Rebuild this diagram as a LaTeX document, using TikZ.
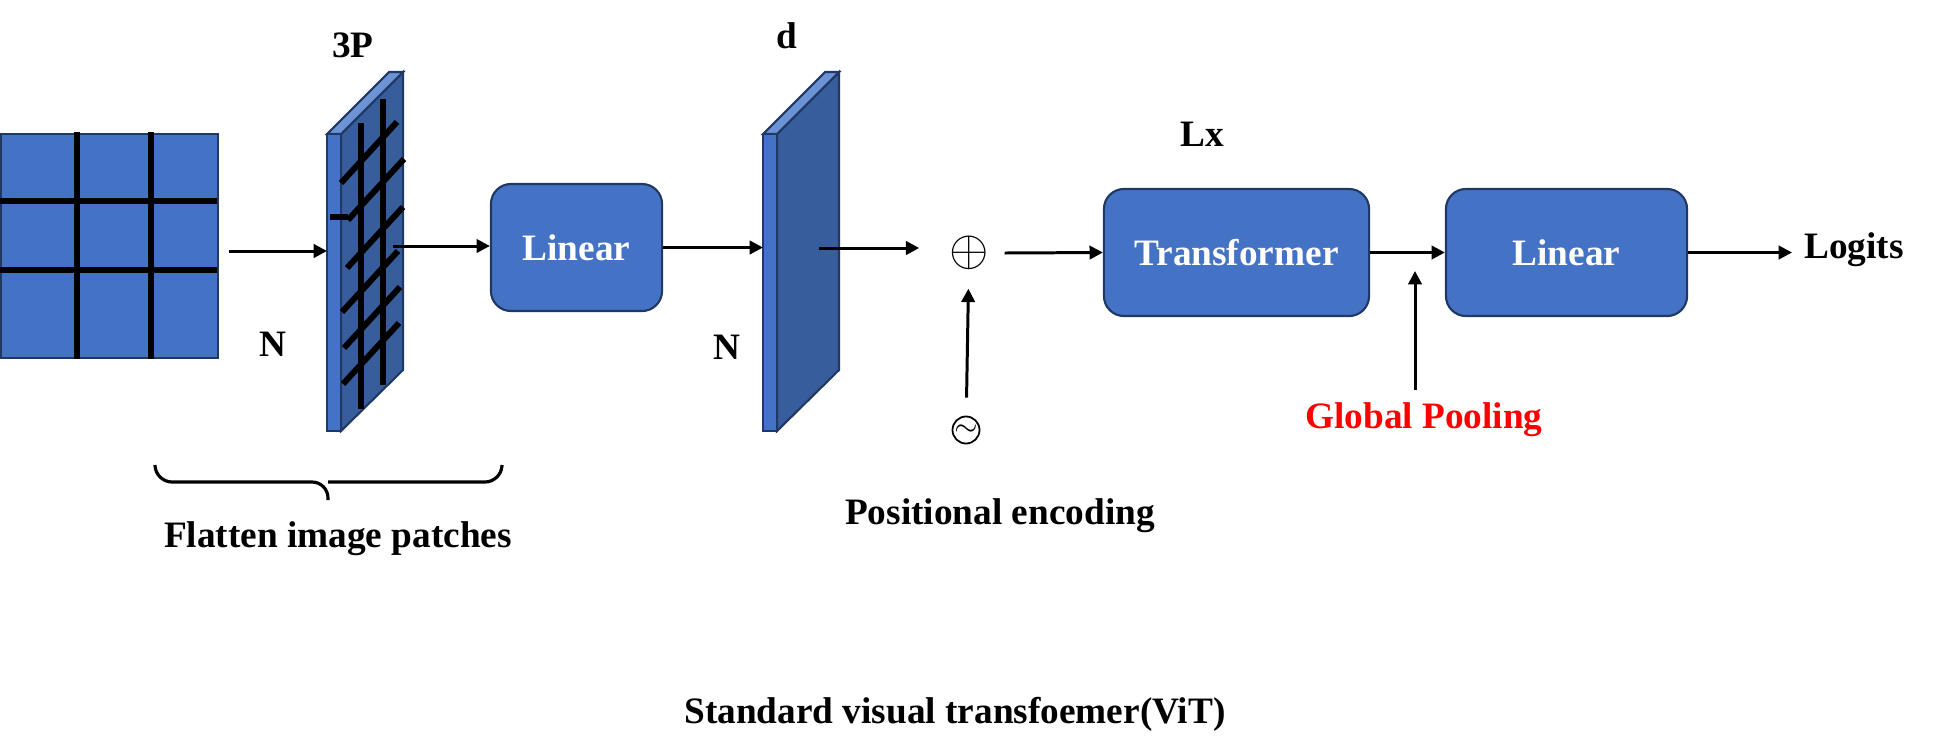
\documentclass[tikz,border=0pt]{standalone}
\usepackage{fontspec}
\setmainfont{Liberation Serif}
\usetikzlibrary{positioning,arrows.meta}
\definecolor{vitblue}{HTML}{4472C4}
\definecolor{vitside}{HTML}{385D9C}
\definecolor{vittop}{HTML}{6B93D6}
\definecolor{vitedge}{HTML}{1F3864}
\definecolor{vitred}{HTML}{FF0000}

\begin{document}
\begin{tikzpicture}[x=0.01cm, y=-0.01cm, >={Triangle[length=3.8pt,width=3.8pt]},
    every node/.style={font=\fontsize{10.6}{12}\selectfont\bfseries},
    block/.style={draw=vitedge, line width=0.6pt, fill=vitblue, rounded corners=0.2cm,
      minimum height=1.27cm, inner sep=0pt, text=white},
    face/.style={draw=vitedge, line width=0.6pt},
    arr/.style={->, line width=0.85pt},
    bar/.style={line width=1.7pt}]
  \useasboundingbox (0,0) rectangle (1940,754);

  % input image cut into 3x3 patches
  \node[face, fill=vitblue, minimum width=2.17cm, minimum height=2.24cm, inner sep=0pt,
    anchor=north west] (img) at (0,133) {};
  \foreach \gx in {77,151} \draw[bar] (\gx,132) -- (\gx,359);
  \foreach \gy in {201,270} \draw[bar] (0,\gy) -- (217,\gy);

  % the two slabs
  \foreach \sx in {327,763} {
    \filldraw[face, fill=vitside] (\sx+14,134) -- (\sx+76,72) -- (\sx+76,370) -- (\sx+14,431) -- cycle;
    \filldraw[face, fill=vittop] (\sx,134) -- (\sx+62,72) -- (\sx+76,72) -- (\sx+14,134) -- cycle;
    \filldraw[face, fill=vitblue] (\sx,134) rectangle (\sx+14,431);
  }
  % flattened patches drawn on the first slab
  \draw[bar] (361,123) -- (361,409);
  \draw[bar] (383,99) -- (383,385);
  \foreach \dx/\dy in {341/183, 348/220, 347/268, 342/312, 344/348, 343/384}
    \draw[bar] (\dx,\dy) -- (\dx+56,\dy-61);
  \draw[bar] (330,217) -- (348,217);

  \coordinate (sAin) at (327,251);
  \coordinate (sAout) at (393,246);
  \coordinate (sBin) at (763,249);
  \coordinate (sBout) at (819,248);
  \coordinate (poolin) at (1415,271);

  % labels
  \node[anchor=base] (lblP) at (353,57) {3P};
  \node[anchor=base] (lblNa) at (273,356) {N};
  \node[anchor=base] (lbld) at (787,48) {d};
  \node[anchor=base] (lblNb) at (727,359) {N};
  \node[anchor=base] (lblL) at (1202,146) {Lx};

  % blocks
  \node[block, minimum width=1.71cm] (linA) at (576.5,247.5) {Linear};
  \node[block, minimum width=2.65cm] (trans) at (1236.5,252.5) {Transformer};
  \node[block, minimum width=2.41cm] (linB) at (1566.5,252.5) {Linear};

  \node[circle, minimum size=0.7cm, inner sep=0pt, font=\fontsize{13.5}{14}\selectfont] (plus) at (969,253) {$\oplus$};
  \node[circle, draw, line width=0.5pt, minimum size=0.27cm, inner sep=0pt,
    font=\fontsize{8}{8}\selectfont] (pe) at (966,430) {$\sim$};

  \node[anchor=base] (flat) at (338,547) {Flatten image patches};
  \node[anchor=base] (posenc) at (1000,524) {Positional encoding};
  \node[anchor=base, text=vitred] (pool) at (1424,428) {Global Pooling};
  \node[anchor=base west] (logit) at (1792,258) {Logits};
  \node[anchor=base] (title) at (955,723) {Standard visual transfoemer(ViT)};

  % brace under the patches
  \draw[line width=0.9pt, rounded corners=1.6mm] (155,465) -- (156,482) -- (328,482) -- (328,500);
  \draw[line width=0.9pt, rounded corners=1.6mm] (502,465) -- (501,482) -- (328,482);

  % connectors
  \draw[arr, shorten <=1mm] (img.east |- sAin) -- (sAin);
  \draw[arr] (sAout) -- (sAout -| linA.west);
  \draw[arr] (linA.east) -- (linA.east -| sBin);
  \draw[arr, shorten >=1.4mm] (sBout) -- (sBout -| plus.west);
  \draw[arr] (plus.east) -- (trans.west);
  \draw[arr, shorten <=1.8mm] (pe) -- (plus);
  \draw[arr] (trans.east) -- (linB.west);
  \draw[arr] (pool.north -| poolin) -- (poolin);
  \draw[arr] (linB.east) -- (linB.east -| logit.west);
\end{tikzpicture}
\end{document}
